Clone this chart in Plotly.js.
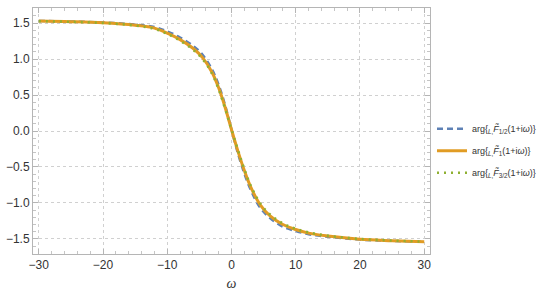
<!DOCTYPE html>
<html>
<head>
<meta charset="utf-8">
<script src="https://cdn.plot.ly/plotly-3.0.1.min.js"></script>
<style>
  html, body { margin: 0; padding: 0; background: #fff; }
  #graph { width: 550px; height: 296px; }
</style>
</head>
<body>
<div id="graph"></div>
<script>
const omega = [-30, -25, -20, -15, -12, -10, -8, -6, -4.5, -3, -2, -1, 0, 1, 2, 3, 4.5, 6, 8, 10, 12, 15, 20, 25, 30];

// arg{F_1/2(1+iω)} - dashed blue, a bit steeper
const argHalf = [1.53, 1.522, 1.508, 1.48, 1.445, 1.385, 1.30, 1.185, 1.06, 0.85, 0.64, 0.36, 0.02, -0.31, -0.59, -0.82, -1.07, -1.21, -1.33, -1.39, -1.435, -1.47, -1.51, -1.528, -1.542];
// arg{F_1(1+iω)} - solid orange
const argOne = [1.528, 1.52, 1.505, 1.47, 1.43, 1.36, 1.27, 1.15, 1.02, 0.81, 0.60, 0.33, 0.02, -0.28, -0.55, -0.78, -1.03, -1.18, -1.30, -1.37, -1.42, -1.46, -1.505, -1.525, -1.54];
// arg{F_3/2(1+iω)} - dotted green, a bit flatter
const argThreeHalf = [1.526, 1.518, 1.502, 1.465, 1.42, 1.35, 1.255, 1.13, 1.0, 0.79, 0.58, 0.31, 0.02, -0.26, -0.53, -0.76, -1.01, -1.16, -1.285, -1.36, -1.41, -1.455, -1.50, -1.522, -1.538];

const xTicks = [-30, -20, -10, 0, 10, 20, 30];
const yTicks = [-1.5, -1.0, -0.5, 0.0, 0.5, 1.0, 1.5];

const labels = [
  'arg{<sub><i>L</i>,</sub><i>F̃</i><sub>1/2</sub>(1+i<i>ω</i>)}',
  'arg{<sub><i>L</i>,</sub><i>F̃</i><sub>1</sub>(1+i<i>ω</i>)}',
  'arg{<sub><i>L</i>,</sub><i>F̃</i><sub>3/2</sub>(1+i<i>ω</i>)}'
];

const traces = [
  {
    x: omega, y: argHalf, type: 'scatter', mode: 'lines', name: labels[0], legendgroup: 'a',
    line: { color: '#5E81B5', width: 2.5, dash: '6px,4px', shape: 'spline' }
  },
  {
    x: omega, y: argOne, type: 'scatter', mode: 'lines', name: labels[1], legendgroup: 'b',
    line: { color: '#E19C24', width: 3, shape: 'spline' }
  },
  {
    x: omega, y: argThreeHalf, type: 'scatter', mode: 'lines', name: labels[2], legendgroup: 'c',
    line: { color: '#8FB032', width: 2.5, dash: '2px,5px', shape: 'spline' }
  }
];

const axisCommon = {
  showline: true,
  mirror: 'ticks',
  linecolor: '#b5b5b5',
  linewidth: 1,
  ticks: 'inside',
  ticklen: 5,
  tickcolor: '#b5b5b5',
  showgrid: true,
  gridcolor: '#d0d0d0',
  griddash: '3px,3px',
  gridwidth: 1,
  zeroline: false,
  tickfont: { family: 'Liberation Sans, Arial, sans-serif', size: 12, color: '#333' }
};

const layout = {
  width: 550,
  height: 296,
  margin: { l: 33, r: 120, t: 8, b: 42 },
  paper_bgcolor: '#fff',
  plot_bgcolor: '#fff',
  showlegend: true,
  legend: {
    x: 1.005, y: 0.42, xanchor: 'left', yanchor: 'middle',
    font: { family: 'Liberation Sans, Arial, sans-serif', size: 9, color: '#333' },
    tracegroupgap: 3,
    itemwidth: 30,
    borderwidth: 0
  },
  xaxis: Object.assign({}, axisCommon, {
    range: [-30.9, 30.9],
    tickvals: xTicks,
    ticktext: xTicks.map(v => v < 0 ? '\u2212' + Math.abs(v) : String(v)),
    minor: { dtick: 2, tick0: 0, ticks: 'inside', ticklen: 3, tickcolor: '#c5c5c5', showgrid: false },
    title: { text: '<i>ω</i>', font: { family: 'Liberation Serif, serif', size: 14, color: '#333' }, standoff: 6 }
  }),
  yaxis: Object.assign({}, axisCommon, {
    range: [-1.71, 1.71],
    tickvals: yTicks,
    ticktext: yTicks.map(v => (v < 0 ? '\u2212' : '') + Math.abs(v).toFixed(1)),
    minor: { dtick: 0.1, tick0: 0, ticks: 'inside', ticklen: 3, tickcolor: '#c5c5c5', showgrid: false }
  })
};

Plotly.newPlot('graph', traces, layout, { staticPlot: true, displayModeBar: false });
</script>
</body>
</html>
